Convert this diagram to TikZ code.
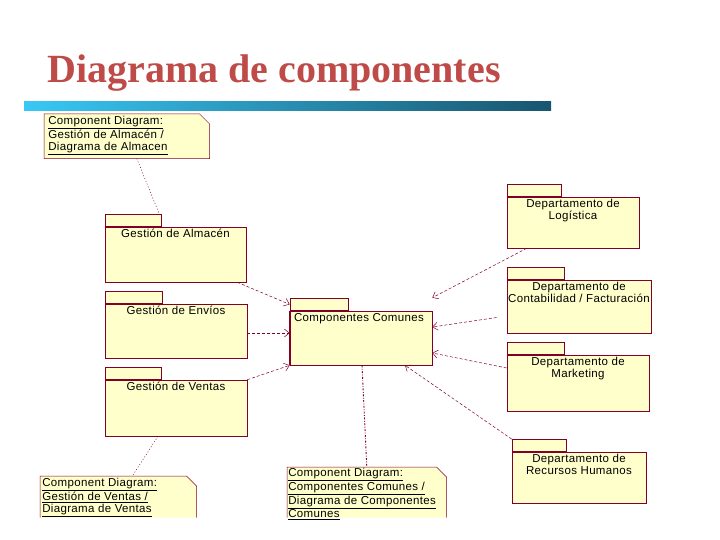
\documentclass[tikz,border=0pt]{standalone}
\usepackage{fontspec}
\setmainfont{Liberation Serif}
\newfontfamily\umlfont[LetterSpace=3]{Liberation Sans}
\usetikzlibrary{arrows.meta}
\definecolor{umlline}{RGB}{128,0,40}
\definecolor{umlfill}{RGB}{255,255,204}
\definecolor{titlered}{RGB}{190,75,72}
\definecolor{barlight}{RGB}{56,200,245}
\definecolor{bardark}{RGB}{25,85,110}
\begin{document}
\begin{tikzpicture}[x=1pt,y=-1pt,line width=0.6pt,
  every node/.style={font=\umlfont\fontsize{11.5}{11.7}\selectfont,inner sep=0pt},
  pkg/.style 2 args={draw=umlline,fill=umlfill,minimum width=#1,minimum height=#2},
  pkgtab/.style={draw=umlline,fill=umlfill,minimum width=#1,minimum height=12,anchor=south west},
  pkglabel/.style={anchor=north,align=center,yshift=-2},
  notearea/.style 2 args={minimum width=#1,minimum height=#2,anchor=north west},
  notefill/.style={draw=umlline,fill=umlfill,line width=0.5pt},
  notetext/.style={anchor=north west,align=left},
  dep/.style={umlline,line width=0.5pt,dash pattern=on 3pt off 2pt,-{Straight Barb[length=5pt,width=8pt]}},
  noteline/.style={umlline,line width=0.5pt,dash pattern=on 1pt off 2pt}]
\useasboundingbox (0,0) rectangle (720,540);
% title and bar
\node[font=\fontsize{40}{48}\selectfont\bfseries,text=titlered,anchor=base west] (title) at (47,83) {Diagrama de componentes};
\shade[left color=barlight,right color=bardark] (24,102) rectangle (551,111);
% notes
\node[notearea={165}{44}] (notealm) at (44,114) {};
\draw[notefill] (notealm.south west) -- (notealm.north west) -- ([xshift=-10]notealm.north east) -- ([yshift=-10]notealm.north east) -- (notealm.south east) -- cycle;
\node[notetext] (notealmtxt) at ([shift={(4,2)}]notealm.north west) {\underline{Component Diagram:}\\Gestión de Almacén /\\\underline{Diagrama de Almacen}};
\node[notearea={156}{41}] (noteven) at (40,476) {};
\path[notefill] (noteven.south west) -- (noteven.north west) -- ([xshift=-10]noteven.north east) -- ([yshift=-10]noteven.north east) -- (noteven.south east);
\node[notetext] (noteventxt) at ([shift={(2,2)}]noteven.north west) {\underline{Component Diagram:}\\\underline{Gestión de Ventas /}\\\underline{Diagrama de Ventas}};
\node[notearea={159}{50}] (notecom) at (287,467) {};
\path[notefill] (notecom.south west) -- (notecom.north west) -- ([xshift=-10]notecom.north east) -- ([yshift=-10]notecom.north east) -- (notecom.south east);
\node[notetext] (notecomtxt) at ([shift={(1,1)}]notecom.north west) {\underline{Component Diagram:}\\\underline{Componentes Comunes /}\\\underline{Diagrama de Componentes}\\\underline{Comunes}};
% packages
\node[pkg={142}{54}] (comunes) at (361,338) {};
\node[pkgtab=58] (comunestab) at (comunes.north west) {};
\draw[umlline,line width=1.4pt] (comunes.north west) -- (comunes.south west);
\node[anchor=north west] (comuneslbl) at ([shift={(4,2)}]comunes.north west) {Componentes Comunes};
\node[pkg={141}{55}] (almacen) at (175.5,254.5) {};
\node[pkgtab=56] (almacentab) at (almacen.north west) {};
\node[pkglabel] (almacenlbl) at (almacen.north) {Gestión de Almacén};
\node[pkg={142}{54}] (envios) at (176,331) {};
\node[pkgtab=57] (enviostab) at (envios.north west) {};
\node[pkglabel] (envioslbl) at (envios.north) {Gestión de Envíos};
\node[pkg={142}{56}] (ventas) at (176,408) {};
\node[pkgtab=56] (ventastab) at (ventas.north west) {};
\node[pkglabel] (ventaslbl) at (ventas.north) {Gestión de Ventas};
\node[pkg={132}{51}] (logistica) at (573,222.5) {};
\node[pkgtab=54] (logisticatab) at (logistica.north west) {};
\node[pkglabel] (logisticalbl) at (logistica.north) {Departamento de\\Logística};
\node[pkg={144}{53}] (contab) at (579,306.5) {};
\node[pkgtab=57] (contabtab) at (contab.north west) {};
\node[pkglabel] (contablbl) at (contab.north) {Departamento de\\Contabilidad / Facturación};
\node[pkg={142}{56}] (marketing) at (578,383) {};
\node[pkgtab=57] (marketingtab) at (marketing.north west) {};
\node[pkglabel] (marketinglbl) at (marketing.north) {Departamento de\\Marketing};
\node[pkg={134}{51}] (rrhh) at (579,477.5) {};
\node[pkgtab=54] (rrhhtab) at (rrhh.north west) {};
\node[pkglabel] (rrhhlbl) at (rrhh.north) {Departamento de\\Recursos Humanos};
% note links
\draw[noteline] ([xshift=10]notealm.south) -- ([xshift=-2]almacentab.north east);
\draw[noteline] ([xshift=-18]ventas.south) -- ([xshift=14]noteven.north);
\draw[noteline,line width=0.9pt,dash pattern=on 2pt off 1.5pt on 0.8pt off 1.5pt] ([xshift=1]comunes.south) -- (notecom.north);
% dependencies
\draw[dep] ([xshift=-9]almacen.south east) -- (comunestab.west);
\draw[dep] ([yshift=-2]envios.east) -- ([yshift=-2]envios.east -| comunes.west);
\draw[dep] (ventas.north east) -- (comunes.south west);
\draw[dep] ([xshift=20]logistica.south west) -- ([yshift=13]comunes.north east);
\draw[dep] ([shift={(-10,11)}]contab.west) -- ([yshift=11]comunes.east);
\draw[dep] ([yshift=15]marketing.west) -- ([yshift=-15]comunes.east);
\draw[dep] (rrhhtab.north west) -- ([xshift=44]comunes.south);
\end{tikzpicture}
\end{document}
